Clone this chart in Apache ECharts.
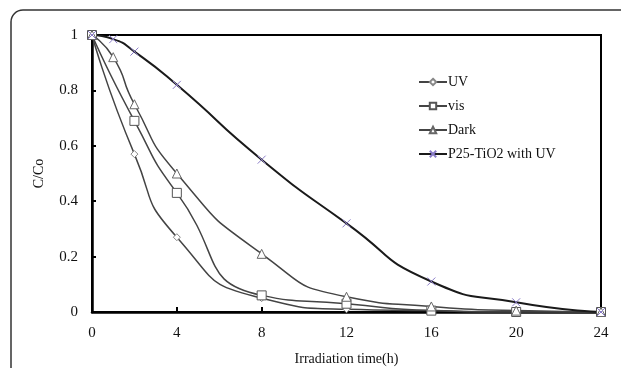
<!DOCTYPE html>
<html>
<head>
<meta charset="utf-8">
<script src="https://cdn.jsdelivr.net/npm/echarts@6/dist/echarts.min.js"></script>
<style>
  html, body { margin: 0; padding: 0; background: #fff; }
  #chart { width: 621px; height: 368px; }
</style>
</head>
<body>
<div id="chart"></div>
<script>
// irradiation time (h) and C/Co readings per condition
const uvTime = [0, 2, 4, 8, 12, 16, 20, 24]
const uvValues = [1, 0.57, 0.27, 0.05, 0.01, 0.005, 0, 0]
const visTime = [0, 2, 4, 8, 12, 16, 20, 24]
const visValues = [1, 0.69, 0.43, 0.06, 0.03, 0.005, 0, 0]
const darkTime = [0, 1, 2, 4, 8, 12, 16, 20, 24]
const darkValues = [1, 0.92, 0.75, 0.5, 0.21, 0.055, 0.02, 0.005, 0]
const p25Time = [0, 1, 2, 4, 8, 12, 16, 20, 24]
const p25Values = [1, 0.985, 0.94, 0.82, 0.55, 0.32, 0.11, 0.035, 0]
const seriesNames = ['UV', 'vis', 'Dark', 'P25-TiO2 with UV']

const font = 'Liberation Serif'

function pairs(xs, ys) {
  return xs.map((x, i) => [x, ys[i]])
}

function makeSeries(name, data, symbol, size, lineColor, lineWidth, markColor) {
  return {
    name: name,
    type: 'line',
    smooth: 0.6,
    data: data,
    symbol: symbol,
    symbolSize: size,
    showAllSymbol: true,
    lineStyle: { color: lineColor, width: lineWidth },
    itemStyle: { color: '#fff', borderColor: markColor, borderWidth: 1 },
    emphasis: { disabled: true },
    animation: false
  }
}

const chart = echarts.init(document.getElementById('chart'))
chart.setOption({
  graphic: [{
    type: 'rect',
    shape: { x: 11, y: 10, width: 680, height: 420, r: 12 },
    style: { fill: 'none', stroke: '#333', lineWidth: 1.5 },
    silent: true
  }],
  grid: {
    left: 92,
    right: 20,
    top: 35,
    bottom: 56,
    outerBoundsMode: 'none',
    show: true,
    borderColor: '#000',
    borderWidth: 2
  },
  legend: {
    orient: 'vertical',
    left: 413,
    top: 70,
    itemGap: 10,
    itemWidth: 28,
    itemHeight: 8,
    data: seriesNames,
    textStyle: { fontFamily: font, fontSize: 14, color: '#111', padding: [0, 0, 0, -4] }
  },
  xAxis: {
    type: 'value',
    min: 0,
    max: 24,
    interval: 4,
    name: 'Irradiation time(h)',
    nameLocation: 'middle',
    nameGap: 40,
    nameTextStyle: { fontFamily: font, fontSize: 14, color: '#111' },
    axisLine: { lineStyle: { color: '#000', width: 2.5 } },
    axisTick: { inside: true, length: 5, lineStyle: { color: '#000', width: 2 } },
    axisLabel: { fontFamily: font, fontSize: 15, color: '#111', margin: 14 },
    splitLine: { show: false }
  },
  yAxis: {
    type: 'value',
    min: 0,
    max: 1,
    interval: 0.2,
    name: 'C/Co',
    nameLocation: 'middle',
    nameGap: 46,
    nameTextStyle: { fontFamily: font, fontSize: 14, color: '#111' },
    axisLine: { show: true, lineStyle: { color: '#000', width: 2.5 } },
    axisTick: { show: true, inside: true, length: 4, lineStyle: { color: '#000', width: 2 } },
    axisLabel: { fontFamily: font, fontSize: 15, color: '#111', margin: 14 },
    splitLine: { show: false }
  },
  series: [
    makeSeries(seriesNames[0], pairs(uvTime, uvValues), 'diamond', 7, '#444', 1.5, '#888'),
    makeSeries(seriesNames[1], pairs(visTime, visValues), 'rect', 9, '#444', 1.5, '#555'),
    makeSeries(seriesNames[2], pairs(darkTime, darkValues), 'triangle', 9, '#444', 1.5, '#666'),
    makeSeries(seriesNames[3], pairs(p25Time, p25Values), 'path://M0,0L10,10M10,0L0,10', 8, '#1a1a1a', 2, '#8a7cc8')
  ]
})
</script>
</body>
</html>
